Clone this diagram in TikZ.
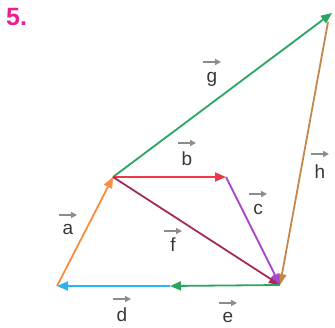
\documentclass[tikz,border=0pt]{standalone}
\usepackage{fontspec}
\setmainfont{Liberation Sans}
\usetikzlibrary{arrows.meta}
\definecolor{vorange}{RGB}{250,140,60}
\definecolor{vred}{RGB}{240,55,70}
\definecolor{vpurple}{RGB}{170,70,200}
\definecolor{vmaroon}{RGB}{165,40,95}
\definecolor{vgreen}{RGB}{40,165,95}
\definecolor{vblue}{RGB}{40,180,240}
\definecolor{vbrown}{RGB}{195,135,75}
\definecolor{vmag}{RGB}{235,30,145}
\definecolor{vtext}{RGB}{55,55,55}
\begin{document}
\begin{tikzpicture}[x=1pt,y=-1pt,
  vec/.style={line width=1.8pt,-{Triangle[length=11pt,width=9pt]}},
  vlab/.style={text=vtext,font=\fontsize{19}{19}\selectfont,inner sep=0pt,anchor=base},
  larr/.style={draw=gray!90,line width=1.6pt,-{Triangle[length=6pt,width=6pt]}}]
\useasboundingbox (0,0) rectangle (335,327);
\coordinate (A) at (57,286);
\coordinate (B) at (113,177);
\coordinate (C) at (226,177);
\coordinate (D) at (280,285);
\coordinate (E) at (332,13);
\coordinate (Et) at (328,22);
\coordinate (M) at (170,286);
\node[text=vmag,font=\bfseries\fontsize{25}{25}\selectfont,inner sep=0pt,anchor=base west] (num) at (6,25) {5.};
\draw[vec,vgreen] (B) -- (E);
\draw[vec,vbrown] (Et) -- (D);
\draw[vec,vorange] (A) -- (B);
\draw[vec,vred] (B) -- (C);
\draw[vec,vmaroon] (B) -- (D);
\draw[vec,vpurple] (C) -- (D);
\draw[vec,vgreen] (D) -- (M);
\draw[vec,vblue] (M) -- (A);
\node[vlab] (lg) at (212,82) {g};
\node[vlab] (lb) at (187,165) {b};
\node[vlab] (lh) at (320,178) {h};
\node[vlab] (lc) at (258,214) {c};
\node[vlab] (la) at (68,234) {a};
\node[vlab] (lf) at (173,251) {f};
\node[vlab] (le) at (228,322) {e};
\node[vlab] (ld) at (122,321) {d};
\foreach \n/\dy in {lg/20,lb/22,lh/24,lc/20,la/19,lf/20,le/19,ld/22}{
  \draw[larr] ([xshift=-9pt,yshift=\dy pt]\n.base) -- ([xshift=9pt,yshift=\dy pt]\n.base);
}
\end{tikzpicture}
\end{document}
